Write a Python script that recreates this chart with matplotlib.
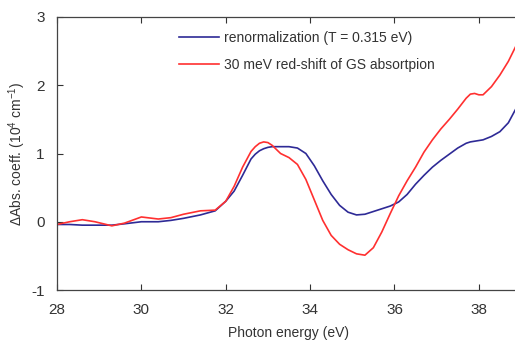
import numpy as np
import matplotlib
matplotlib.use("Agg")
import matplotlib.pyplot as plt

plt.rcParams["font.family"] = ["Liberation Sans", "DejaVu Sans"]
plt.rcParams["mathtext.fontset"] = "custom"
plt.rcParams["mathtext.rm"] = "Liberation Sans"
plt.rcParams["mathtext.it"] = "Liberation Sans"
plt.rcParams["axes.unicode_minus"] = False

# photon energy (eV)
energy = [28.0, 28.3, 28.6, 28.9, 29.3, 29.6, 30.0, 30.4, 30.7, 31.0, 31.4, 31.75,
          32.0, 32.2, 32.4, 32.6, 32.7, 32.8, 32.9, 33.0, 33.1, 33.2, 33.3, 33.5,
          33.7, 33.9, 34.1, 34.3, 34.5, 34.7, 34.9, 35.1, 35.3, 35.5, 35.7, 35.9,
          36.1, 36.3, 36.5, 36.7, 36.9, 37.1, 37.3, 37.5, 37.7, 37.8, 37.9, 38.0,
          38.1, 38.3, 38.5, 38.7, 38.9]

# renormalization (T = 0.315 eV)
renorm = [-0.04, -0.04, -0.05, -0.05, -0.05, -0.03, 0.0, 0.0, 0.02, 0.05, 0.10, 0.16,
          0.30, 0.45, 0.68, 0.92, 0.99, 1.04, 1.07, 1.09, 1.10, 1.10, 1.10, 1.10,
          1.08, 1.00, 0.82, 0.60, 0.40, 0.24, 0.14, 0.10, 0.11, 0.15, 0.19, 0.23,
          0.29, 0.40, 0.55, 0.68, 0.80, 0.90, 0.99, 1.08, 1.15, 1.17, 1.18, 1.19,
          1.20, 1.25, 1.32, 1.45, 1.68]

# 30 meV red-shift of GS absorption
redshift = [-0.04, 0.0, 0.03, 0.0, -0.06, -0.02, 0.07, 0.04, 0.06, 0.11, 0.16, 0.17,
            0.30, 0.52, 0.80, 1.03, 1.10, 1.15, 1.17, 1.16, 1.12, 1.06, 1.00, 0.94,
            0.84, 0.62, 0.32, 0.02, -0.20, -0.33, -0.41, -0.47, -0.49, -0.38, -0.15, 0.12,
            0.38, 0.60, 0.80, 1.02, 1.20, 1.36, 1.50, 1.65, 1.81, 1.87, 1.88, 1.86,
            1.86, 1.98, 2.15, 2.35, 2.60]

xticks = [28, 30, 32, 34, 36, 38]
yticks = [-1, 0, 1, 2, 3]

TXT = "#333333"

fig = plt.figure(figsize=(5.15, 3.4), dpi=100)
ax = fig.add_axes([57 / 515, 1 - 290 / 340, (521 - 57) / 515, (290 - 17) / 340])

ax.plot(energy, renorm, color="#2e2a96", lw=1.2,
        label="renormalization (T = 0.315 eV)")
ax.plot(energy, redshift, color="#ff3030", lw=1.2,
        label="30 meV red-shift of GS absortpion")

ax.set_xlim(28, 39)
ax.set_ylim(-1, 3)
ax.set_xticks(xticks)
ax.set_yticks(yticks)
ax.tick_params(direction="in", top=True, right=False, labelsize=11,
               colors=TXT, length=4, width=0.8, pad=9)
for sp in ax.spines.values():
    sp.set_edgecolor("#444444")
    sp.set_linewidth(0.9)
ax.spines["right"].set_visible(False)

ax.set_xlabel("Photon energy (eV)", fontsize=10, color=TXT, labelpad=6.5)
ax.set_ylabel(r"$\Delta$Abs. coeff. (10$^{4}$ cm$^{-1}$)", fontsize=10,
              color=TXT, labelpad=2)

leg = ax.legend(loc="upper left", bbox_to_anchor=(0.235, 0.995), frameon=False,
                fontsize=10, handlelength=2.9, handletextpad=0.4,
                labelspacing=0.95)
for t in leg.get_texts():
    t.set_color(TXT)

fig.savefig("out.png", dpi=100)
